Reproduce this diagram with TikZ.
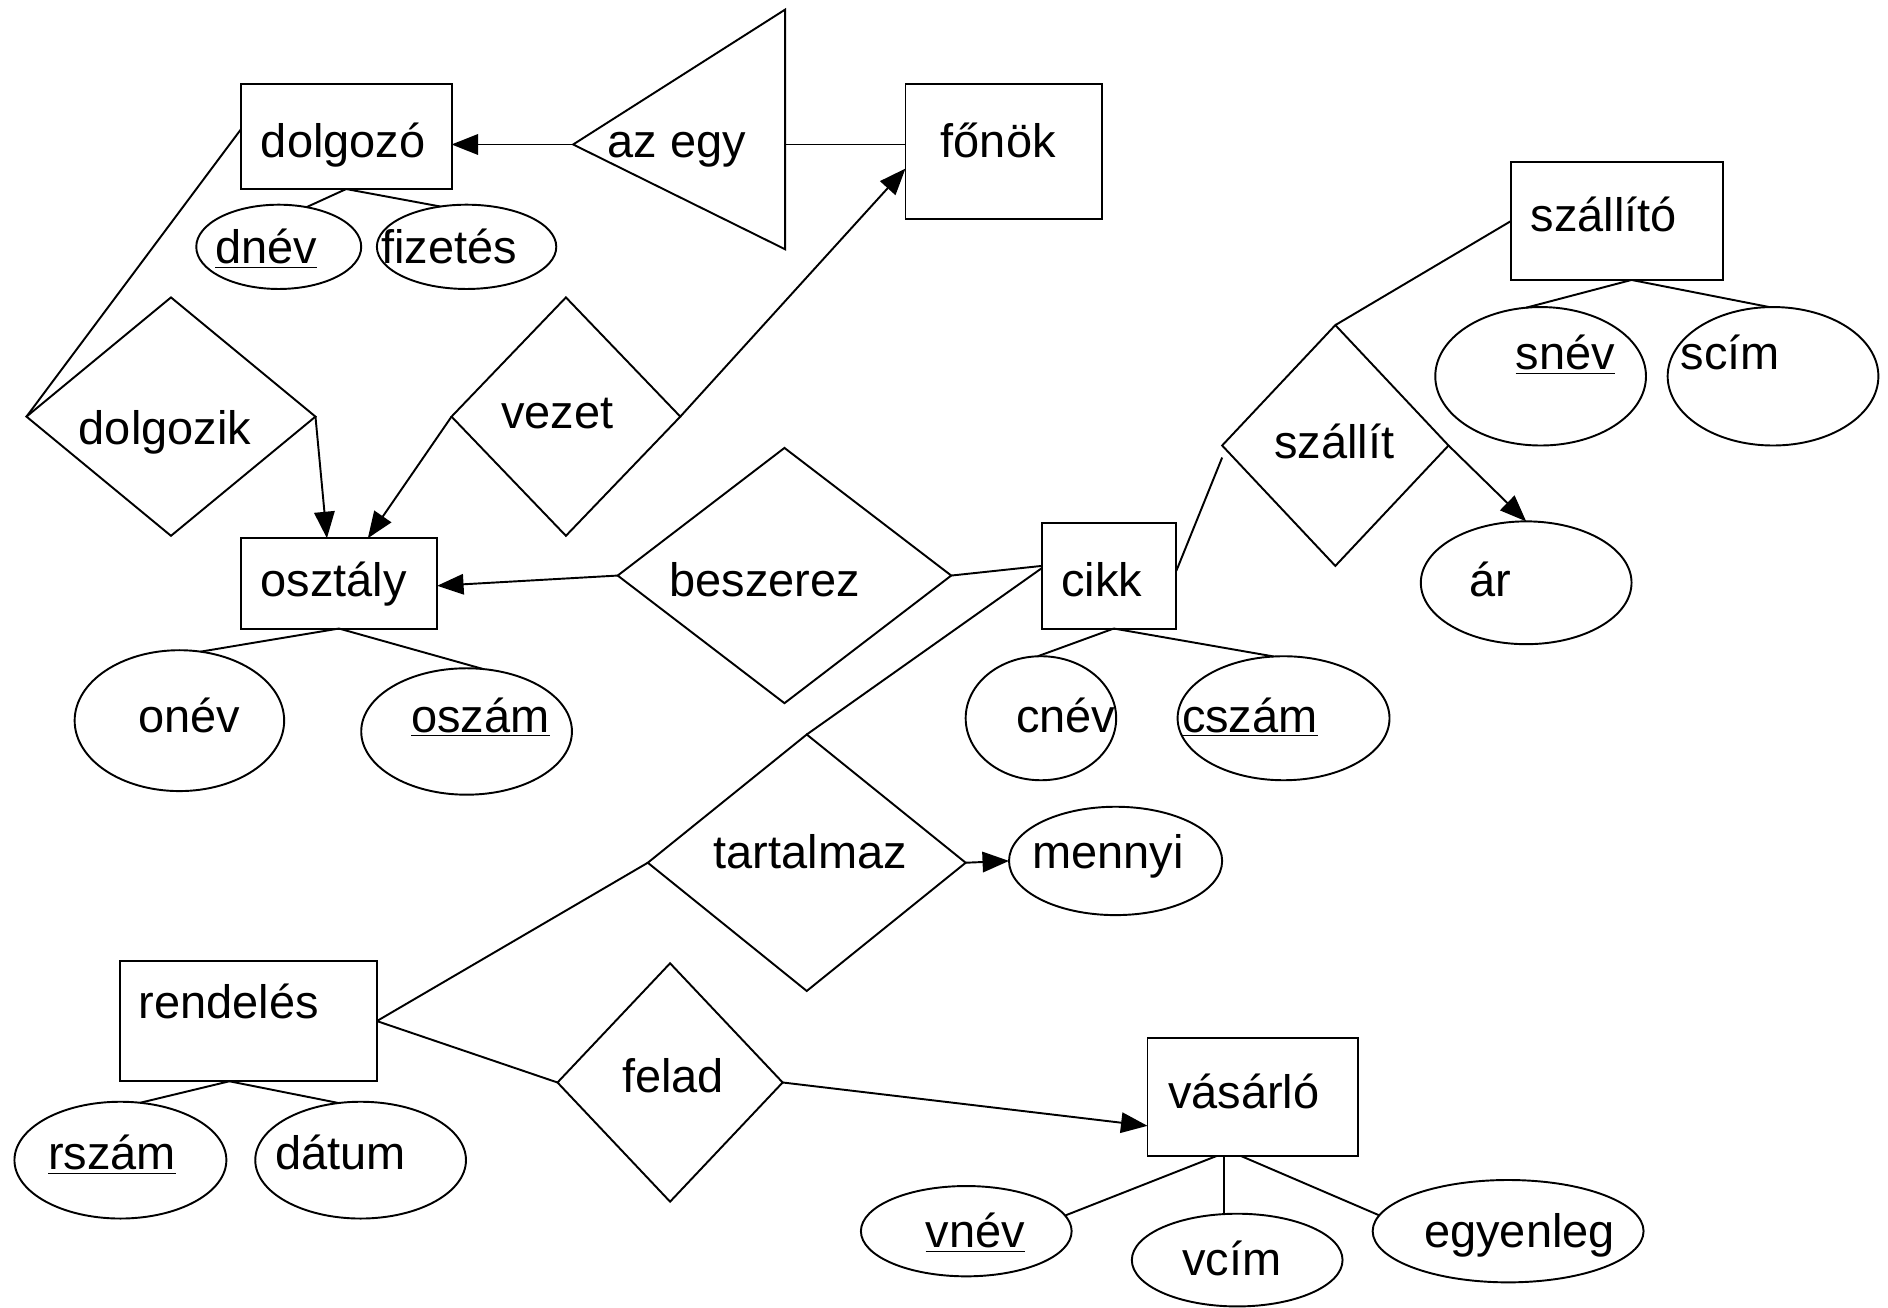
\documentclass[tikz,border=0pt]{standalone}
\usepackage{fontspec}
\setmainfont{Liberation Sans}
\usetikzlibrary{shapes.geometric,arrows.meta}
\begin{document}
\begin{tikzpicture}[x=0.5pt,y=-0.5pt, line width=0.8pt,
 every node/.style={font=\fontsize{19.5}{23}\selectfont},
 ent/.style={draw, rectangle, inner sep=0pt, outer sep=0pt},
 attr/.style={draw, ellipse, inner sep=0pt, outer sep=0pt},
 rel/.style={draw, diamond, inner sep=0pt, outer sep=0pt},
 txt/.style={inner sep=0pt, text height=14pt, text depth=0pt},
 arr/.style={-{Triangle[length=11pt,width=8.5pt]}}
]
\useasboundingbox (0,0) rectangle (1568,1086);
% entities
\node[ent, minimum width=87.5pt, minimum height=43.5pt] (dolgozo) at (287.5,113.5) {};
\node[ent, minimum width=81.5pt, minimum height=56pt] (fonok) at (833.5,126) {};
\node[ent, minimum width=88pt, minimum height=49pt] (szallito) at (1343,183.5) {};
\node[ent, minimum width=81.5pt, minimum height=37.5pt] (osztaly) at (281.5,484.5) {};
\node[ent, minimum width=56pt, minimum height=44pt] (cikk) at (921,478) {};
\node[ent, minimum width=106.5pt, minimum height=50pt] (rendeles) at (206.5,848) {};
\node[ent, minimum width=87.5pt, minimum height=49pt] (vasarlo) at (1040.5,911) {};
% attributes
\node[attr, minimum width=68.5pt, minimum height=35pt] (dnev) at (231.5,205) {};
\node[attr, minimum width=74.5pt, minimum height=35pt] (fizetes) at (387.5,205) {};
\node[attr, minimum width=87pt, minimum height=58.5pt] (onev) at (149,598.5) {};
\node[attr, minimum width=87.5pt, minimum height=52.5pt] (oszam) at (387.5,607.5) {};
\node[attr, minimum width=62.5pt, minimum height=51.5pt] (cnev) at (864.5,596.5) {};
\node[attr, minimum width=88pt, minimum height=51.5pt] (cszam) at (1066,596.5) {};
\node[attr, minimum width=87.5pt, minimum height=57.5pt] (snev) at (1279.5,312.5) {};
\node[attr, minimum width=87.5pt, minimum height=57.5pt] (scim) at (1472.5,312.5) {};
\node[attr, minimum width=87.5pt, minimum height=51pt] (ar) at (1267.5,484) {};
\node[attr, minimum width=88.5pt, minimum height=45pt] (mennyi) at (926.5,715) {};
\node[attr, minimum width=88pt, minimum height=48.5pt] (rszam) at (100,963.5) {};
\node[attr, minimum width=87.5pt, minimum height=48.5pt] (datum) at (299.5,963.5) {};
\node[attr, minimum width=87.5pt, minimum height=37.5pt] (vnev) at (802.5,1022.5) {};
\node[attr, minimum width=87.5pt, minimum height=38.5pt] (vcim) at (1027.5,1046.5) {};
\node[attr, minimum width=112.5pt, minimum height=42.5pt] (egyenleg) at (1252.5,1022.5) {};
% relationships
\node[rel, minimum width=120pt, minimum height=99pt] (dolgozik) at (142,346) {};
\node[rel, minimum width=95pt, minimum height=99pt] (vezet) at (470,346) {};
\node[rel, minimum width=138.5pt, minimum height=106pt] (beszerez) at (651.5,478) {};
\node[rel, minimum width=94pt, minimum height=100pt] (szallit) at (1109,370) {};
\node[rel, minimum width=132pt, minimum height=106.5pt] (tartalmaz) at (670,716.5) {};
\node[rel, minimum width=93.5pt, minimum height=99pt] (felad) at (556.5,899) {};
% az egy triangle
\coordinate (azL) at (476,120);
\coordinate (azR) at (652,120);
\draw (azL) -- (652,8) -- (652,207) -- cycle;
% texts
\node[txt] (t-dolgozo) at (285,117) {dolgozó};
\node[txt] (t-fonok) at (829,117) {főnök};
\node[txt] (t-szallito) at (1332,178) {szállító};
\node[txt] (t-osztaly) at (277,481) {osztály};
\node[txt] (t-cikk) at (915,481) {cikk};
\node[txt] (t-rendeles) at (190,832) {rendelés};
\node[txt] (t-vasarlo) at (1033,907) {vásárló};
\node[txt] (t-dnev) at (221,205) {\underline{dnév}};
\node[txt] (t-fizetes) at (373,205) {fizetés};
\node[txt] (t-onev) at (157,594) {onév};
\node[txt] (t-oszam) at (399,594) {\underline{oszám}};
\node[txt] (t-cnev) at (885,594) {cnév};
\node[txt] (t-cszam) at (1038,594) {\underline{cszám}};
\node[txt] (t-snev) at (1300,293) {\underline{snév}};
\node[txt] (t-scim) at (1437,293) {scím};
\node[txt] (t-ar) at (1238,481) {ár};
\node[txt] (t-mennyi) at (920,707) {mennyi};
\node[txt] (t-rszam) at (93,957) {\underline{rszám}};
\node[txt] (t-datum) at (283,957) {dátum};
\node[txt] (t-vnev) at (810,1022) {\underline{vnév}};
\node[txt] (t-vcim) at (1023,1045) {vcím};
\node[txt] (t-egyenleg) at (1262,1022) {egyenleg};
\node[txt] (t-dolgozik) at (137,355) {dolgozik};
\node[txt] (t-vezet) at (463,342) {vezet};
\node[txt] (t-beszerez) at (635,481) {beszerez};
\node[txt] (t-szallit) at (1108,367) {szállít};
\node[txt] (t-tartalmaz) at (673,707) {tartalmaz};
\node[txt] (t-felad) at (559,893) {felad};
\node[txt] (t-azegy) at (562,117) {az egy};
% connectors
\draw[arr] (azL) -- (azL -| dolgozo.east);
\draw (azR) -- (azR -| fonok.west);
\draw ([yshift=3pt]dolgozo.west) -- (dolgozik.west);
\draw[arr] (dolgozik.east) -- ([xshift=-5pt]osztaly.north);
\draw[arr] (vezet.west) -- ([xshift=12pt]osztaly.north);
\draw[arr] (vezet.east) -- ([yshift=-7pt]fonok.west);
\draw[arr] (beszerez.west) -- ([yshift=-1pt]osztaly.east);
\draw (beszerez.east) -- ([yshift=4pt]cikk.west);
\draw ([yshift=3pt]cikk.west) -- (tartalmaz.north);
\draw (tartalmaz.west) -- (rendeles.east);
\draw[arr] (tartalmaz.east) -- (mennyi.west);
\draw (rendeles.east) -- (felad.west);
\draw[arr] (felad.east) -- ([yshift=-12pt]vasarlo.west);
\draw (szallito.west) -- (szallit.north);
\draw ([yshift=-5pt]szallit.west) -- ([yshift=2pt]cikk.east);
\draw[arr] (szallit.east) -- (ar.north);
% attribute links
\draw (dolgozo.south) -- (dnev.55);
\draw (dolgozo.south) -- (fizetes.123);
\draw (osztaly.south) -- (onev.73);
\draw (osztaly.south) -- (oszam.75);
\draw ([xshift=2pt]cikk.south) -- (cnev.93);
\draw ([xshift=2pt]cikk.south) -- (cszam.99);
\draw ([xshift=6pt]szallito.south) -- (snev.102);
\draw ([xshift=6pt]szallito.south) -- (scim.93);
\draw ([xshift=-8pt]rendeles.south) -- (rszam.71);
\draw ([xshift=-8pt]rendeles.south) -- (datum.111);
\draw ([xshift=-15pt]vasarlo.south) -- (vnev.9);
\draw ([xshift=-12pt]vasarlo.south) -- ([xshift=-12pt]vasarlo.south |- vcim.north);
\draw ([xshift=-5pt]vasarlo.south) -- (egyenleg.173);
\end{tikzpicture}
\end{document}
